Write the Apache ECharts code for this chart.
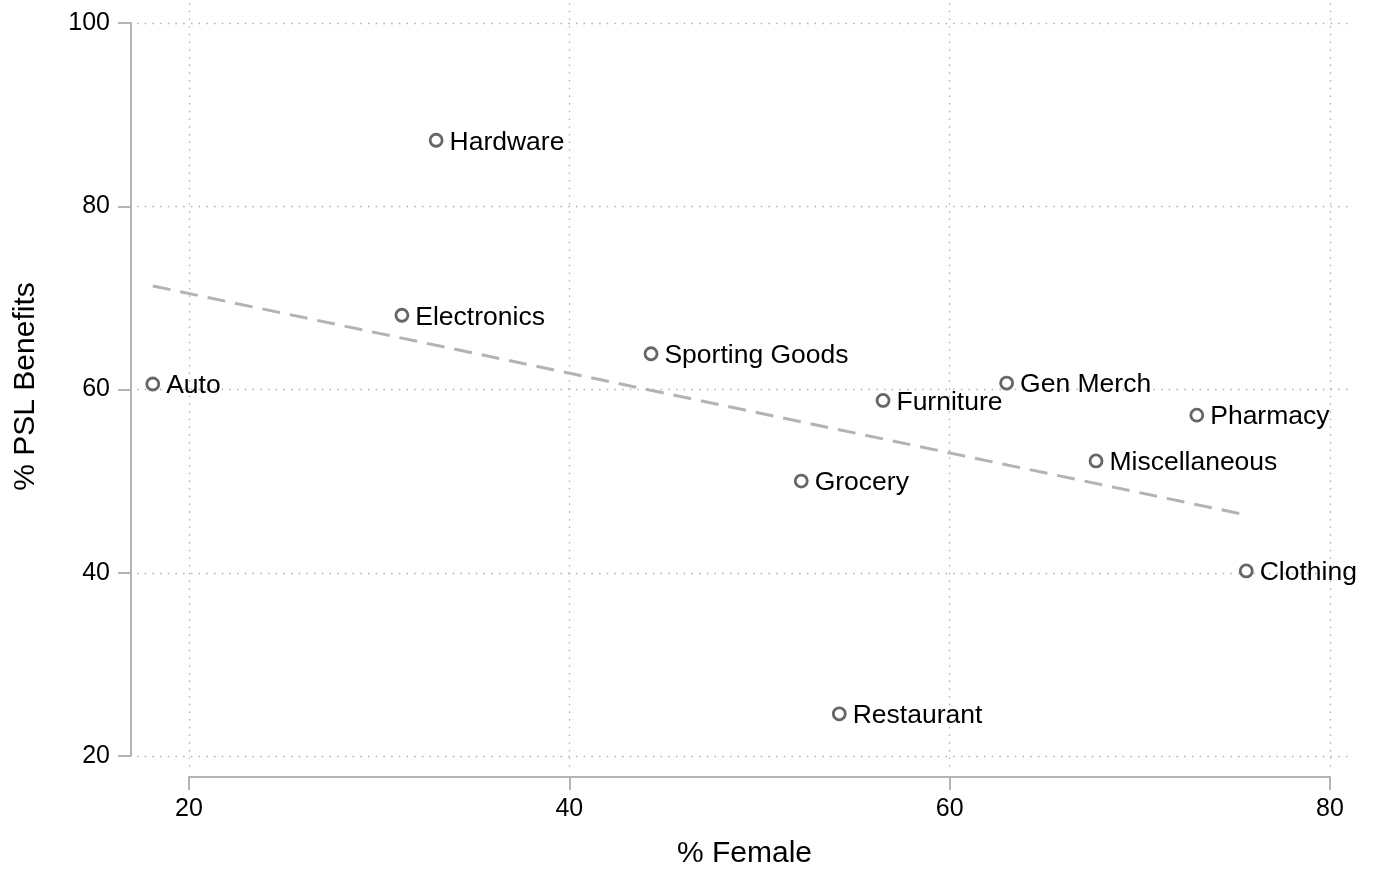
<!DOCTYPE html>
<html>
<head>
    <meta charset="utf-8">
    <title>PSL Benefits vs Female Share</title>
    <script src="https://cdn.jsdelivr.net/npm/echarts@6/dist/echarts.min.js"></script>
    <style>
        html, body { margin: 0; padding: 0; background: #fff; }
    </style>
</head>
<body>
    <div id="main" style="width: 1376px;height:874px;"></div>
    <script type="text/javascript">
        // industries and their values
        var industries = ['Hardware', 'Electronics', 'Auto', 'Sporting Goods', 'Furniture', 'Gen Merch',
                          'Pharmacy', 'Miscellaneous', 'Grocery', 'Clothing', 'Restaurant'];
        var pctFemale = [33.0, 31.2, 18.1, 44.3, 56.5, 63.0, 73.0, 67.7, 52.2, 75.6, 54.2];
        var pctPSL    = [87.2, 68.1, 60.6, 63.9, 58.8, 60.7, 57.2, 52.2, 50.0, 40.2, 24.6];

        // fitted line end points
        var fitX = [18.1, 75.6];
        var fitY = [71.3, 46.3];

        var xTicks = [20, 80, 20];   // min, max, step
        var yTicks = [20, 100, 20];

        var font = 'Liberation Sans, Arial, Helvetica, sans-serif';
        var axisGrey = '#b4b4b4';
        var dotted = { show: true, lineStyle: { color: '#b0b0b0', width: 1.3, type: [1.5, 6.2] } };

        var points = [];
        for (var i = 0; i < industries.length; i++) {
            points.push({ name: industries[i], value: [pctFemale[i], pctPSL[i]] });
        }
        var fitLine = [];
        for (var j = 0; j < fitX.length; j++) {
            fitLine.push([fitX[j], fitY[j]]);
        }

        var myChart = echarts.init(document.getElementById('main'));

        var option = {
            animation: false,
            textStyle: { fontFamily: font },
            grid: [
                // plot region
                { left: 137, right: 24, top: 3, bottom: 104 },
                // y axis (spans 20..100 only)
                { left: 137, right: 24, top: 23, bottom: 118 },
                // x axis (spans 20..80 only)
                { left: 189, right: 46, top: 3, bottom: 104 }
            ],
            xAxis: [
                {
                    gridIndex: 0, type: 'value', min: 17.27, max: 81.16,
                    name: '% Female', nameLocation: 'middle', nameGap: 69,
                    nameTextStyle: { fontSize: 30, color: '#000', fontFamily: font },
                    axisLine: { show: false }, axisTick: { show: false },
                    axisLabel: { show: false }, splitLine: { show: false }
                },
                {
                    gridIndex: 1, type: 'value', min: 0, max: 1, show: false
                },
                {
                    gridIndex: 2, type: 'value', min: xTicks[0], max: xTicks[1], interval: xTicks[2],
                    offset: 7,
                    axisLine: { show: true, onZero: false, lineStyle: { color: axisGrey, width: 2 } },
                    axisTick: { show: true, length: 13, lineStyle: { color: axisGrey, width: 2 } },
                    axisLabel: { fontSize: 25, color: '#000', margin: 20, fontFamily: font },
                    splitLine: dotted
                }
            ],
            yAxis: [
                {
                    gridIndex: 0, type: 'value', min: 18.47, max: 102.18,
                    name: '% PSL Benefits', nameLocation: 'middle', nameGap: 96,
                    nameTextStyle: { fontSize: 30, color: '#000', fontFamily: font },
                    axisLine: { show: false }, axisTick: { show: false },
                    axisLabel: { show: false }, splitLine: { show: false }
                },
                {
                    gridIndex: 1, type: 'value', min: yTicks[0], max: yTicks[1], interval: yTicks[2],
                    offset: 6,
                    axisLine: { show: true, onZero: false, lineStyle: { color: axisGrey, width: 2 } },
                    axisTick: { show: true, length: 13, lineStyle: { color: axisGrey, width: 2 } },
                    axisLabel: { fontSize: 25, color: '#000', margin: 21, fontFamily: font },
                    splitLine: dotted
                },
                {
                    gridIndex: 2, type: 'value', min: 0, max: 1, show: false
                }
            ],
            series: [
                {
                    name: 'Fitted values',
                    type: 'line',
                    xAxisIndex: 0, yAxisIndex: 0,
                    data: fitLine,
                    symbol: 'none',
                    silent: true,
                    lineStyle: { color: '#b3b3b3', width: 3, type: [18, 10] },
                    z: 2
                },
                {
                    name: '% PSL Benefits',
                    type: 'scatter',
                    xAxisIndex: 0, yAxisIndex: 0,
                    data: points,
                    symbol: 'circle',
                    symbolSize: 12,
                    itemStyle: { color: '#fff', borderColor: '#666', borderWidth: 2.8, opacity: 1 },
                    label: {
                        show: true, position: 'right', distance: 6, offset: [0, 2],
                        formatter: '{b}', fontSize: 26.5, color: '#000', opacity: 1,
                        textBorderWidth: 0, fontFamily: font
                    },
                    z: 3
                }
            ]
        };

        myChart.setOption(option);
    </script>
</body>
</html>
